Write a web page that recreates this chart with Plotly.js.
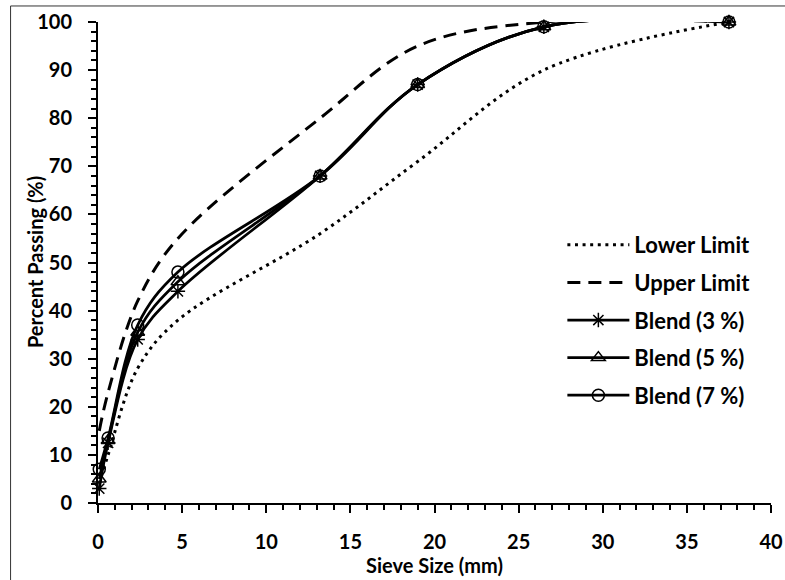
<!DOCTYPE html>
<html>
<head>
<meta charset="utf-8">
<script src="https://cdn.plot.ly/plotly-3.0.1.min.js"></script>
<style>
  html, body { margin: 0; padding: 0; background: #fff; }
  #chart { width: 785px; height: 580px; }
</style>
</head>
<body>
<div id="chart"></div>
<script>
// Sieve sizes (mm) and percent passing for the gradation envelope and blends
const sieveSizes = [0.075, 0.6, 2.36, 4.75, 13.2, 19, 26.5, 37.5];
const lowerLimit = [4, 10, 28, 38, 56, 71, 90, 100];
const upperLimit = [15, 23, 42, 55, 80, 95, 100, 100];
const blend3 = [3, 12.5, 34, 44, 68, 87, 99, 100];
const blend5 = [5, 13, 35.5, 46, 68, 87, 99, 100];
const blend7 = [7, 13.5, 37, 48, 68, 87, 99, 100];

const seriesNames = ['Lower Limit', 'Upper Limit', 'Blend (3 %)', 'Blend (5 %)', 'Blend (7 %)'];
const xTitle = 'Sieve Size (mm)';
const yTitle = 'Percent Passing (%)';

const FONT = 'Lato, "Open Sans", sans-serif';
const BLACK = '#000000';

function curve(y, name, line, marker, group) {
  const trace = {
    x: sieveSizes,
    y: y,
    name: name,
    type: 'scatter',
    mode: marker ? 'lines+markers' : 'lines',
    line: Object.assign({ color: BLACK, shape: 'spline', smoothing: 1 }, line),
    legendgroup: group,
    cliponaxis: false
  };
  if (marker) trace.marker = marker;
  return trace;
}

const markerBase = { color: BLACK, size: 12, line: { color: BLACK, width: 1.5 } };

const traces = [
  curve(lowerLimit, seriesNames[0], { width: 3, dash: '3px,4.6px' }, undefined, 'g1'),
  curve(upperLimit, seriesNames[1], { width: 3, dash: '13px,8px' }, undefined, 'g2'),
  curve(blend3, seriesNames[2], { width: 2.75 }, Object.assign({}, markerBase, { symbol: 'asterisk-open' }), 'g3'),
  curve(blend5, seriesNames[3], { width: 2.75 }, Object.assign({}, markerBase, { symbol: 'triangle-up-open' }), 'g4'),
  curve(blend7, seriesNames[4], { width: 2.75 }, Object.assign({}, markerBase, { symbol: 'circle-open' }), 'g5')
];

const boldFont = (size) => ({ family: FONT, size: size, color: BLACK, weight: 'bold' });

const axisCommon = {
  showgrid: false,
  zeroline: false,
  showline: true,
  linecolor: BLACK,
  linewidth: 2,
  ticks: 'outside',
  tickcolor: BLACK,
  tickwidth: 2,
  ticklen: 8,
  tickfont: boldFont(20),
  fixedrange: true
};

const layout = {
  width: 785,
  height: 580,
  margin: { l: 97.5, r: 14, t: 22, b: 77 },
  paper_bgcolor: '#ffffff',
  plot_bgcolor: '#ffffff',
  font: { family: FONT, color: BLACK },
  showlegend: true,
  legend: {
    x: 0.69, y: 0.58, xanchor: 'left', yanchor: 'top',
    font: boldFont(22),
    traceorder: 'grouped',
    tracegroupgap: 6,
    itemwidth: 62,
    bgcolor: 'rgba(0,0,0,0)'
  },
  xaxis: Object.assign({}, axisCommon, {
    range: [0, 40],
    dtick: 5,
    tick0: 0,
    ticklabelstandoff: 12,
    minor: { dtick: 1, ticks: 'outside', ticklen: 5, tickwidth: 2, tickcolor: BLACK },
    title: { text: xTitle, font: boldFont(20), standoff: 6 }
  }),
  yaxis: Object.assign({}, axisCommon, {
    range: [0, 100],
    dtick: 10,
    tick0: 0,
    ticklabelstandoff: 12,
    minor: { dtick: 2, ticks: 'outside', ticklen: 5, tickwidth: 2, tickcolor: BLACK }
  }),
  annotations: [{
    text: yTitle, xref: 'paper', yref: 'paper',
    x: -0.0943, y: 0.5, xanchor: 'center', yanchor: 'middle',
    textangle: -90, showarrow: false, font: boldFont(20)
  }],
  shapes: [{
    type: 'rect', xref: 'paper', yref: 'paper',
    x0: -0.1299, x1: 1.6, y0: -0.6, y1: 1.0333,
    line: { color: '#333333', width: 1 }, fillcolor: 'rgba(0,0,0,0)', layer: 'below'
  }]
};

Plotly.newPlot('chart', traces, layout, { staticPlot: true, displayModeBar: false });
</script>
</body>
</html>
